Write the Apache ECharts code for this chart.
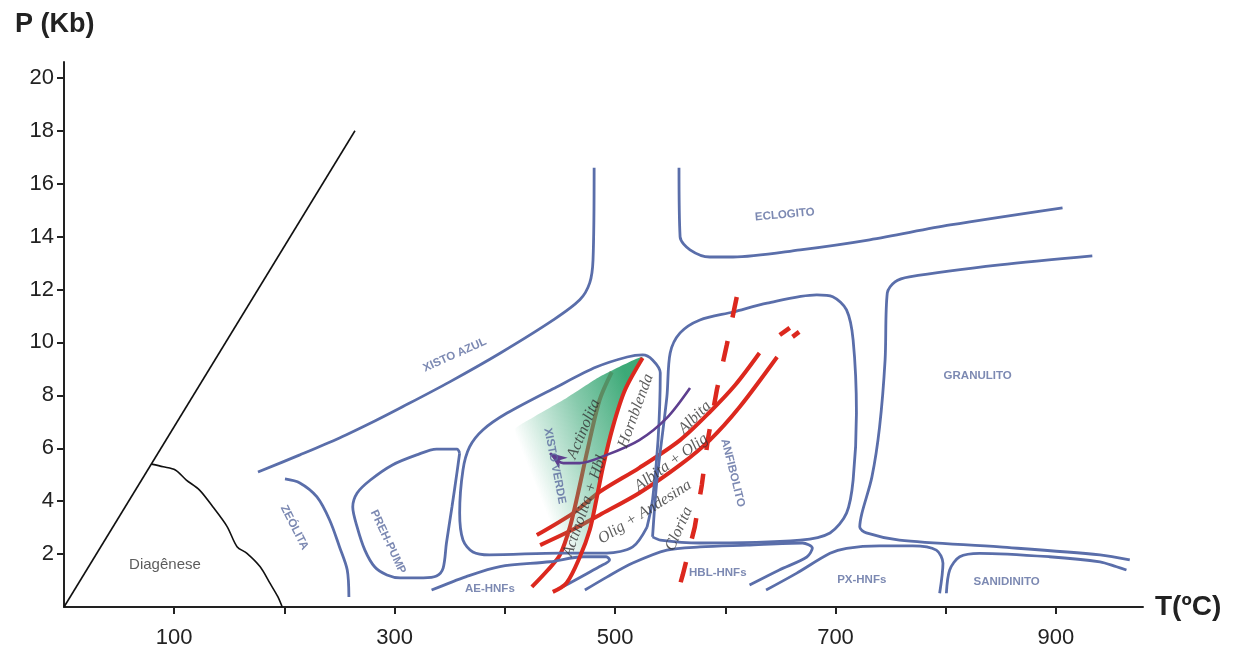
<!DOCTYPE html>
<html><head><meta charset="utf-8">
<script src="https://cdn.jsdelivr.net/npm/echarts@6/dist/echarts.min.js"></script>
<style>html,body{margin:0;padding:0;background:#fff}#c{width:1233px;height:655px}</style>
</head><body><div id="c"></div>
<script>
// ---------- axes ----------
const xTicks = [100, 200, 300, 400, 500, 600, 700, 800, 900];
const xLabels = [100, 300, 500, 700, 900];
const yTicks = [2, 4, 6, 8, 10, 12, 14, 16, 18, 20];

// ---------- black lines (T °C, P kb) ----------
const geothermLimit = [[0, 0], [264, 18.0]];
const diagenesis = [[79.5,5.40],[90,5.30],[101,5.18],[111,4.80],[123,4.42],[135,3.79],[148,3.04],[157,2.28],[166,2.03],[178,1.52],[187,0.89],[194,0.39],[198,0]];

// ---------- facies boundaries (blue) ----------
const blueschist = [[176,5.10],[214,5.75],[250,6.39],[282,7.03],[305,7.52],[350,8.51],[396,9.60],[444,10.85],[468,11.61],[477,12.25],[480,13.12],[481,16.60]];
const eclogite = [[558,16.60],[559,13.99],[568,13.50],[586,13.23],[607,13.23],[668,13.50],[731,13.88],[804,14.44],[906,15.09]];
const granulite = [[933,13.27],[849,12.93],[767,12.48],[754,12.29],[747,11.87],[745,9.34],[740,6.81],[733,4.91],[724,3.55],[722,3.02],[728,2.80],[758,2.53],[849,2.27],[940,1.97],[967,1.78]];
const zeolite = [[200.5,4.84],[214,4.69],[229.5,4.16],[241,3.29],[250,2.27],[257,1.40],[258.5,0.38]];
const prehPump = [[359,5.82],[356.5,5.97],[338,5.97],[320,5.75],[298,5.37],[278,4.80],[266,4.31],[262,3.78],[266,3.02],[273,2.15],[282,1.51],[293,1.21],[305,1.10],[326,1.10],[338,1.17],[344,1.47],[347,2.42],[352,3.78],[356.5,5.07],[359,5.82]];
const greenschist = [[529,3.02],[534,4.05],[539,6.31],[541,8.85],[534,9.34],[525,9.53],[511,9.45],[483,9.07],[447,8.32],[402,7.33],[380,6.69],[368,6.05],[362,5.18],[359,3.55],[362,2.53],[371,2.08],[386,1.97],[450,2.04],[492.5,2.04],[516,2.27],[529,3.02]];
const amphibolite = [[534,2.65],[538,4.80],[547,7.94],[550,9.60],[559,10.36],[577,10.85],[607,11.15],[638,11.49],[683,11.80],[697.5,11.73],[710,11.23],[716,10.09],[719,7.33],[716,4.80],[710,3.55],[695,2.80],[668,2.53],[577,2.42],[541,2.53],[534,2.65]];
const aeHornfels = [[333.5,0.64],[365,1.15],[395.5,1.53],[441,1.71],[471,1.90],[492,1.90],[495,1.78],[486,1.53],[453,0.77]];
const hblHornfels = [[472.6,0.64],[492.5,1.13],[516,1.66],[547,2.15],[577,2.27],[619.5,2.34],[670,2.42],[679,2.23],[674,1.89],[649,1.40],[622,0.83]];
const pxHornfels = [[637,0.64],[664.5,1.27],[695,2.03],[710,2.22],[740,2.31],[770,2.31],[791.5,2.15],[797.5,1.65],[794.5,0.52]];
const sanidinite = [[800.6,0.52],[803.6,1.40],[812.7,1.90],[830.8,2.03],[894,1.90],[940,1.71],[955,1.52],[964,1.40]];

// ---------- isograds (red) ----------
const actinolite = [[424.5,0.76],[439,1.40],[450,1.97],[459,3.02],[466,4.23],[475,5.94],[486,7.83],[497,8.88]];
const hornblende = [[443.5,0.57],[456,0.91],[468,1.89],[477,2.91],[483,4.05],[489,5.29],[498,6.81],[509,8.20],[525,9.41]];
const albite = [[429,2.72],[462,3.55],[486,4.35],[522,5.26],[559,6.31],[586,7.37],[609,8.39],[631,9.60]];
const albiteOlig = [[432,2.34],[459,2.87],[486,3.48],[522,4.31],[559,5.37],[586,6.31],[613,7.56],[647,9.45]];
const chlorite = [[610.4,11.72],[601.4,9.91],[592.3,8.20],[584.1,6.31],[578.7,4.61],[572.3,3.02],[561.4,1.21],[557,0.57]];
const dashA = [[649.4,10.28],[658.5,10.55]];
const dashB = [[661,10.21],[667,10.40]];

// ---------- P-T path (purple) ----------
const ptPath = [[568,8.28],[547,7.15],[522,6.31],[492.5,5.75],[468,5.44],[453,5.44],[441,5.82]];

// ---------- green greenschist field ----------
const greenZone = [[409,6.69],[425,7.15],[456,7.90],[486,8.70],[513,9.26],[525,9.45],[509,8.20],[498,6.81],[489,5.29],[483,4.05],[477,2.91],[468,1.89],[414,1.89]];

// ---------- labels ----------
const faciesNames = ['XISTO AZUL','ECLOGITO','GRANULITO','ZEÓLITA','PREH-PUMP','XISTO VERDE','ANFIBOLITO','AE-HNFs','HBL-HNFs','PX-HNFs','SANIDINITO'];
const faciesAnchors = [[354.6,9.53],[654,14.83],[829,8.74],[209,3.0],[294,2.46],[445.3,5.33],[606.8,5.07],[386.4,0.68],[593.2,1.29],[723.8,1.02],[855.3,0.95]];
const isogradNames = ['Actinolita','Actinolita + Hbl','Hornblenda','Albita','Albita + Olig','Olig + Andesina','Clorita'];
const isogradAnchors = [[471.6,6.73],[472.6,3.82],[518.8,7.41],[572.3,7.16],[551,5.46],[527,3.59],[558,2.95]];
const otherNames = ['Diagênese'];
const otherAnchors = [[91.6,1.59]];

// ---------- styles (kept apart from data) ----------
const faciesRotate = {'XISTO AZUL':24,'ECLOGITO':5,'GRANULITO':0,'ZEÓLITA':-63,'PREH-PUMP':-65,'XISTO VERDE':-79,'ANFIBOLITO':-76,'AE-HNFs':0,'HBL-HNFs':0,'PX-HNFs':0,'SANIDINITO':0};
const isogradRotate = {'Actinolita':67,'Actinolita + Hbl':71,'Hornblenda':70,'Albita':45,'Albita + Olig':36,'Olig + Andesina':32,'Clorita':66};
const BLUE = '#5a6eaa', RED = '#dc281e', PURPLE = '#5e3f8f', INK = '#222';
const SANS = 'Liberation Sans, Arial, sans-serif';
const SERIF = 'Liberation Serif, Times New Roman, serif';

function line(data, color, width, z, extra) {
  return Object.assign({
    type: 'line', data: data, symbol: 'none', showSymbol: false, smooth: 0.3,
    lineStyle: { color: color, width: width }, silent: true, z: z, animation: false
  }, extra || {});
}
function labels(names, anchors, rot, textStyle, z) {
  return {
    type: 'scatter', silent: true, z: z, symbolSize: 1, animation: false,
    itemStyle: { color: 'rgba(0,0,0,0)' },
    label: Object.assign({ show: true, position: 'inside', formatter: '{b}' }, textStyle),
    data: names.map((n, i) => ({ name: n, value: anchors[i], label: { rotate: rot ? (rot[n] || 0) : 0 } }))
  };
}

const chart = echarts.init(document.getElementById('c'), null, { renderer: 'canvas' });
chart.setOption({
  animation: false,
  title: { text: 'P (Kb)', left: 10, top: 6, textStyle: { fontSize: 27, fontWeight: 'bold', color: INK, fontFamily: SANS } },
  grid: { left: 64, right: 90, top: 62, bottom: 48, containLabel: false },
  xAxis: {
    type: 'value', min: 0, max: 979, interval: 100,
    name: 'T(ºC)', nameLocation: 'end', nameGap: 12,
    nameTextStyle: { fontSize: 28, fontWeight: 'bold', color: INK, fontFamily: SANS, verticalAlign: 'middle', padding: [6, 0, 0, 0] },
    axisLine: { lineStyle: { color: INK, width: 2 } },
    axisTick: { show: true, length: 7, lineStyle: { color: INK, width: 2 }, customValues: xTicks },
    axisLabel: { fontSize: 22, color: INK, fontFamily: SANS, margin: 20, customValues: xLabels,
      formatter: v => (xLabels.indexOf(v) >= 0 ? String(v) : '') },
    splitLine: { show: false }
  },
  yAxis: {
    type: 'value', min: 0, max: 20.6, interval: 2,
    axisLine: { show: true, lineStyle: { color: INK, width: 2 } },
    axisTick: { show: true, length: 7, lineStyle: { color: INK, width: 2 }, customValues: yTicks },
    axisLabel: { fontSize: 22, color: INK, fontFamily: SANS, margin: 10, customValues: yTicks,
      formatter: v => (yTicks.indexOf(v) >= 0 ? String(v) : '') },
    splitLine: { show: false }
  },
  series: [
    line(geothermLimit, '#111', 1.6, 2, { smooth: false }),
    line(diagenesis, '#111', 1.6, 2),
    line(actinolite, RED, 4, 2),
    line(albite, RED, 4, 2),
    line(albiteOlig, RED, 4, 2),
    {
      type: 'custom', silent: true, z: 3, animation: false,
      data: [greenZone[0]],
      renderItem: function (params, api) {
        const pts = greenZone.map(p => api.coord(p));
        return {
          type: 'polygon',
          shape: { points: pts, smooth: 0.15 },
          style: {
            fill: new echarts.graphic.LinearGradient(0, 0.55, 1, 0.3, [
              { offset: 0, color: 'rgba(70,175,130,0)' },
              { offset: 0.1, color: 'rgba(70,175,130,0)' },
              { offset: 0.3, color: 'rgba(70,175,130,0.28)' },
              { offset: 0.6, color: 'rgba(62,170,122,0.62)' },
              { offset: 1, color: 'rgba(50,165,112,0.95)' }
            ])
          }
        };
      }
    },
    line(blueschist, BLUE, 2.8, 4),
    line(eclogite, BLUE, 2.8, 4),
    line(granulite, BLUE, 2.8, 4),
    line(zeolite, BLUE, 2.8, 4),
    line(prehPump, BLUE, 2.8, 4),
    line(greenschist, BLUE, 2.8, 4),
    line(amphibolite, BLUE, 2.8, 4),
    line(aeHornfels, BLUE, 2.8, 4),
    line(hblHornfels, BLUE, 2.8, 4),
    line(pxHornfels, BLUE, 2.8, 4),
    line(sanidinite, BLUE, 2.8, 4),
    line(hornblende, RED, 4, 5),
    line(chlorite, RED, 4.5, 5, { smooth: false, lineStyle: { color: RED, width: 4.5, type: [21, 24] } }),
    line(dashA, RED, 4.5, 5, { smooth: false }),
    line(dashB, RED, 4.5, 5, { smooth: false }),
    line(ptPath, PURPLE, 2.6, 6),
    {
      // arrowhead at the end of the P-T path, oriented along its last segment
      type: 'custom', silent: true, z: 6, animation: false,
      data: [ptPath[ptPath.length - 1]],
      renderItem: function (params, api) {
        const a = api.coord(ptPath[ptPath.length - 2]);
        const b = api.coord(ptPath[ptPath.length - 1]);
        let dx = b[0] - a[0], dy = b[1] - a[1];
        const len = Math.hypot(dx, dy) || 1; dx /= len; dy /= len;
        const nx = -dy, ny = dx, L = 17, W = 7;
        const base = [b[0] - dx * L, b[1] - dy * L];
        return {
          type: 'polygon',
          shape: { points: [b, [base[0] + nx * W, base[1] + ny * W], [b[0] - dx * L * 0.7, b[1] - dy * L * 0.7], [base[0] - nx * W, base[1] - ny * W]] },
          style: { fill: PURPLE }
        };
      }
    },
    labels(faciesNames, faciesAnchors, faciesRotate, { color: '#5b6b9f', fontSize: 11.5, fontWeight: 'bold', fontFamily: SANS }, 7),
    labels(isogradNames, isogradAnchors, isogradRotate, { color: '#333', fontSize: 16, fontStyle: 'italic', fontFamily: SERIF }, 7),
    labels(otherNames, otherAnchors, null, { color: '#333', fontSize: 15, fontFamily: SANS }, 7)
  ]
});
</script>
</body></html>
